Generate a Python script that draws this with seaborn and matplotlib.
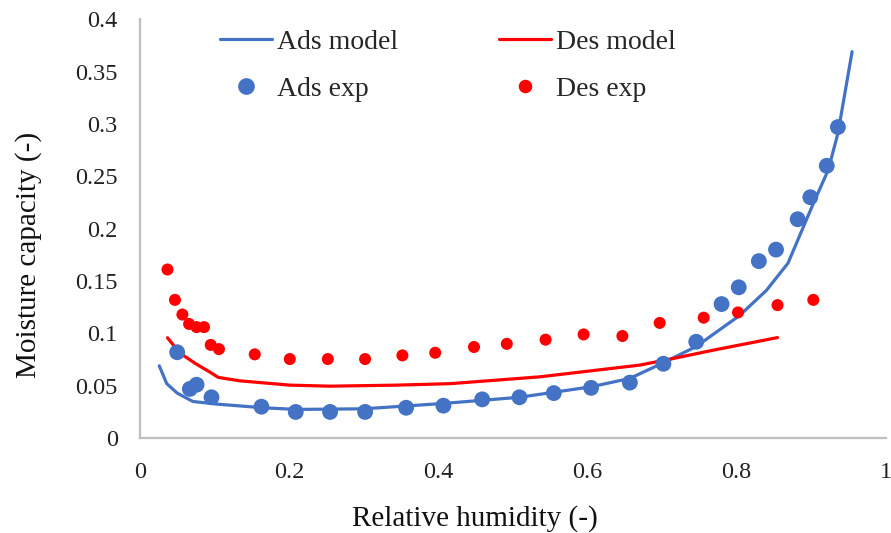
import matplotlib
matplotlib.use("Agg")
import matplotlib.pyplot as plt
import seaborn as sns
import pandas as pd
from matplotlib.lines import Line2D

# ---- data ----
ads_exp_x = [0.050, 0.067, 0.076, 0.096, 0.163, 0.209, 0.255, 0.302, 0.357, 0.407,
             0.459, 0.509, 0.555, 0.605, 0.657, 0.702, 0.746, 0.780, 0.803, 0.830,
             0.853, 0.882, 0.899, 0.921, 0.936]
ads_exp_y = [0.082, 0.047, 0.051, 0.039, 0.030, 0.025, 0.025, 0.025, 0.029, 0.031,
             0.037, 0.039, 0.043, 0.048, 0.053, 0.071, 0.092, 0.128, 0.144, 0.169,
             0.180, 0.209, 0.230, 0.260, 0.297]

des_exp_x = [0.037, 0.047, 0.057, 0.066, 0.076, 0.086, 0.095, 0.106, 0.154, 0.201,
             0.252, 0.302, 0.352, 0.396, 0.448, 0.492, 0.544, 0.595, 0.647, 0.697,
             0.756, 0.802, 0.855, 0.903]
des_exp_y = [0.161, 0.132, 0.118, 0.109, 0.106, 0.106, 0.089, 0.085, 0.080, 0.0755,
             0.0755, 0.0755, 0.079, 0.0815, 0.087, 0.090, 0.094, 0.099, 0.0975, 0.110,
             0.115, 0.120, 0.127, 0.132]

ads_model_x = [0.026, 0.036, 0.050, 0.071, 0.103, 0.165, 0.210, 0.300, 0.405, 0.509,
               0.605, 0.657, 0.702, 0.746, 0.804, 0.840, 0.869, 0.903, 0.923, 0.936, 0.955]
ads_model_y = [0.069, 0.052, 0.043, 0.035, 0.0325, 0.029, 0.0274, 0.028, 0.033, 0.039,
               0.049, 0.057, 0.072, 0.0875, 0.117, 0.141, 0.167, 0.224, 0.256, 0.291, 0.369]

des_model_x = [0.037, 0.054, 0.075, 0.094, 0.105, 0.134, 0.201, 0.255, 0.344, 0.416,
               0.536, 0.670, 0.715, 0.769, 0.855]
des_model_y = [0.0958, 0.081, 0.071, 0.063, 0.058, 0.0547, 0.0506, 0.0496, 0.0506, 0.052,
               0.0585, 0.0697, 0.076, 0.084, 0.096]

x_ticks = [0, 0.2, 0.4, 0.6, 0.8, 1]
x_tick_labels = ["0", "0.2", "0.4", "0.6", "0.8", "1"]
y_ticks = [0, 0.05, 0.1, 0.15, 0.2, 0.25, 0.3, 0.35, 0.4]
y_tick_labels = ["0", "0.05", "0.1", "0.15", "0.2", "0.25", "0.3", "0.35", "0.4"]

BLUE = "#4472C4"
RED = "#FF0000"

sns.set_style("white")
plt.rcParams["font.family"] = ["Liberation Serif", "DejaVu Serif"]

fig = plt.figure(figsize=(8.91, 5.33), dpi=100)
ax = fig.add_axes([0.157, 0.178, 0.837, 0.786])

ads_m = pd.DataFrame({"x": ads_model_x, "y": ads_model_y})
des_m = pd.DataFrame({"x": des_model_x, "y": des_model_y})
ads_e = pd.DataFrame({"x": ads_exp_x, "y": ads_exp_y})
des_e = pd.DataFrame({"x": des_exp_x, "y": des_exp_y})

sns.lineplot(data=ads_m, x="x", y="y", ax=ax, color=BLUE, linewidth=2.3, sort=False)
sns.lineplot(data=des_m, x="x", y="y", ax=ax, color=RED, linewidth=2.3, sort=False)
sns.scatterplot(data=ads_e, x="x", y="y", ax=ax, color=BLUE, s=130, edgecolor="none", zorder=3)
sns.scatterplot(data=des_e, x="x", y="y", ax=ax, color=RED, s=75, edgecolor="none", zorder=3)

ax.set_xlim(0, 1)
ax.set_ylim(0, 0.4)
ax.set_xticks(x_ticks)
ax.set_xticklabels(x_tick_labels)
ax.set_yticks(y_ticks)
ax.set_yticklabels(y_tick_labels)
ax.tick_params(axis="both", length=0, labelsize=17.5, colors="#222222")
ax.tick_params(axis="x", pad=17)
ax.tick_params(axis="y", pad=16)

for s in ["top", "right"]:
    ax.spines[s].set_visible(False)
for s in ["left", "bottom"]:
    ax.spines[s].set_color("#BFBFBF")
    ax.spines[s].set_linewidth(1.6)

ax.set_xlabel("Relative humidity (-)", fontsize=21, labelpad=16, color="#111111")
ax.set_ylabel("Moisture capacity (-)", fontsize=21, labelpad=24, color="#111111")
ax.xaxis.label.set_x(0.449)
ax.yaxis.label.set_y(0.437)

handles = [
    Line2D([], [], color=BLUE, linewidth=2.3),
    Line2D([], [], color=BLUE, marker="o", linestyle="none", markersize=11),
    Line2D([], [], color=RED, linewidth=2.3),
    Line2D([], [], color=RED, marker="o", linestyle="none", markersize=8.7),
]
labels = ["Ads model", "Ads exp", "Des model", "Des exp"]
leg = fig.legend(handles, labels, ncol=2, loc="upper left",
                 bbox_to_anchor=(0.2346, 0.966), borderaxespad=0, frameon=False,
                 fontsize=20, handlelength=1.87, handletextpad=0.18,
                 columnspacing=3.62, labelspacing=0.77)

fig.savefig("out.png", dpi=100)
